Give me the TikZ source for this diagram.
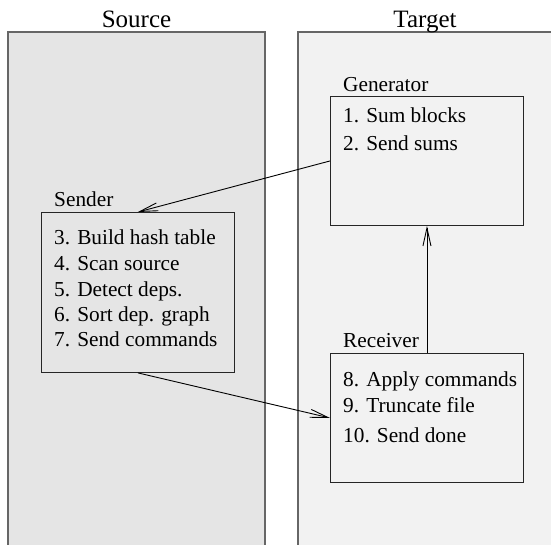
\documentclass[tikz,border=0pt]{standalone}
\usepackage{fontspec}
\setmainfont{Liberation Serif}
\usetikzlibrary{arrows.meta}
\definecolor{srcgray}{HTML}{E5E5E5}
\definecolor{tgtgray}{HTML}{F2F2F2}
\definecolor{colline}{HTML}{666666}

\begin{document}
\begin{tikzpicture}[x=1pt,y=-1pt,
        column/.style={draw=colline,line width=1.5pt},
        box/.style={draw=black!85,line width=0.9pt,minimum width=193pt,anchor=north west,inner sep=0pt},
        title/.style={anchor=base,inner sep=0pt,font=\rmfamily\fontsize{25}{30}\selectfont},
        txt/.style={anchor=base west,inner sep=0pt,font=\rmfamily\fontsize{21.3}{25}\selectfont},
        flow/.style={-{Straight Barb[length=18pt,width=8pt]},line width=0.9pt}]
        \useasboundingbox (0,0) rectangle (551,544);
        \clip (0,0) rectangle (551,544);
        \draw[column,fill=srcgray] (8,32) rectangle (265,560);
        \draw[column,fill=tgtgray] (298,32) rectangle (570,560);
        \node[title] (src) at (136.5,27) {Source};
        \node[title] (tgt) at (425,27) {Target};

        \node[box,minimum height=129pt] (gen) at (330,96) {};
        \node[box,minimum height=160pt] (snd) at (41,212) {};
        \node[box,minimum height=129pt] (rcv) at (330,353) {};

        \node[txt] (genlbl) at (343,91) {Generator};
        \node[txt] (sndlbl) at (54,206) {Sender};
        \node[txt] (rcvlbl) at (343,347) {Receiver};
        \foreach \n/\t/\y in {1/1. Sum blocks/122, 2/2. Send sums/150}
            \node[txt] (g\n) at (343,\y) {\t};
        \foreach \n/\t/\y in {3/3. Build hash table/244, 4/4. Scan source/270,
                5/5. Detect deps./296, 6/6. Sort dep. graph/321, 7/7. Send commands/346}
            \node[txt] (s\n) at (54,\y) {\t};
        \foreach \n/\t/\y in {8/8. Apply commands/386, 9/9. Truncate file/412, 10/10. Send done/442}
            \node[txt] (r\n) at (343,\y) {\t};

        \draw[flow] (gen.west) -- (snd.north);
        \draw[flow] (snd.south) -- (rcv.west);
        \draw[flow] (rcv.north) -- (gen.south);
    \end{tikzpicture}
\end{document}
